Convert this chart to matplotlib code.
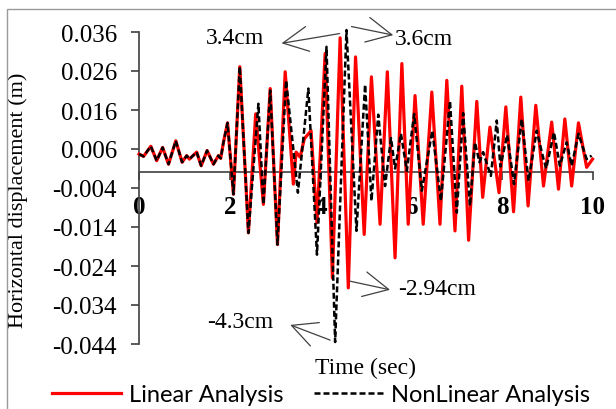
import matplotlib
matplotlib.use('Agg')
import matplotlib.pyplot as plt
from matplotlib.patches import Rectangle

# values (time in s, displacement in m)
shared_t = [0.0, 0.10, 0.26, 0.39, 0.52, 0.65, 0.81, 0.95, 1.05, 1.11, 1.27, 1.37,
            1.50, 1.64, 1.75, 1.80, 1.86, 1.95, 2.08, 2.22, 2.41]
shared_v = [0.0047, 0.0041, 0.0067, 0.0030, 0.0064, 0.0021, 0.0081, 0.0026, 0.0043,
            0.0034, 0.0052, 0.0017, 0.0056, 0.0021, 0.0043, 0.0036, 0.0077, 0.0127,
            -0.0056, 0.0271, -0.0155]

linear_t = [2.57, 2.74, 2.89, 3.05, 3.22, 3.40, 3.46, 3.55, 3.64, 3.79, 3.92, 4.10,
            4.26, 4.43, 4.61, 4.77, 4.96, 5.12, 5.31, 5.47, 5.64, 5.79, 5.93, 6.08,
            6.26, 6.45, 6.63, 6.78, 6.96, 7.11, 7.26, 7.44, 7.57, 7.73, 7.93, 8.08,
            8.25, 8.41, 8.57, 8.74, 8.91, 9.09, 9.24, 9.38, 9.53, 9.68, 9.86, 9.99]
linear_v = [0.0150, -0.0082, 0.0215, -0.0185, 0.0258, -0.0030, 0.0052, 0.0039, 0.0086,
            0.0107, -0.0129, 0.0305, -0.0271, 0.0345, -0.0296, 0.0296, -0.0159, 0.0245,
            -0.0133, 0.0258, -0.0219, 0.0279, -0.0133, 0.0197, -0.0133, 0.0206, -0.0133,
            0.0236, -0.0150, 0.0221, -0.0174, 0.0182, -0.0064, 0.0116, -0.0052, 0.0168,
            -0.0101, 0.0193, -0.0086, 0.0172, -0.0035, 0.0129, -0.0043, 0.0137, -0.0035,
            0.0127, 0.0013, 0.0034]

nonlinear_t = [2.63, 2.74, 2.89, 3.05, 3.24, 3.50, 3.73, 3.92, 4.13, 4.32, 4.57, 4.79,
               4.98, 5.12, 5.27, 5.42, 5.55, 5.64, 5.77, 5.90, 6.06, 6.23, 6.46, 6.65,
               6.85, 7.00, 7.14, 7.29, 7.40, 7.50, 7.58, 7.75, 7.88, 7.96, 8.11, 8.26,
               8.43, 8.58, 8.76, 8.91, 8.97, 9.14, 9.27, 9.42, 9.53, 9.68, 9.86, 9.97]
nonlinear_v = [0.0176, -0.0082, 0.0210, -0.0185, 0.0236, -0.0052, 0.0215, -0.0211,
               0.0322, -0.0435, 0.0365, -0.0150, 0.0225, -0.0073, 0.0148, -0.0035,
               0.0088, 0.0010, 0.0099, 0.0004, 0.0150, -0.0047, 0.0107, -0.0073,
               0.0183, -0.0103, 0.0152, -0.0086, 0.0077, 0.0026, 0.0052, -0.0009,
               0.0133, 0.0015, 0.0096, -0.0030, 0.0137, -0.0022, 0.0107, 0.0034,
               0.0010, 0.0103, 0.0017, 0.0077, 0.0017, 0.0099, 0.0034, 0.0043]

y_ticks = [-0.044, -0.034, -0.024, -0.014, -0.004, 0.006, 0.016, 0.026, 0.036]
x_ticks = [0, 2, 4, 6, 8, 10]

# peak labels: text, text pos, alignment, arrow tail, arrow head
peak_notes = [
    ('3.4cm', (2.11, 0.0346), 'center', (4.42, 0.0356), (3.14, 0.0331)),
    ('3.6cm', (5.64, 0.0344), 'left', (4.68, 0.0374), (5.60, 0.0352)),
    ('-2.94cm', (5.70, -0.0298), 'left', (4.65, -0.0279), (5.53, -0.0301)),
    ('-4.3cm', (2.22, -0.0383), 'center', (4.21, -0.0430), (3.33, -0.0391)),
]

serif = 'Liberation Serif'
axis_col = '#404040'

fig = plt.figure(figsize=(6.16, 4.10), dpi=100)
fig.patches.append(Rectangle((7 / 616, -0.1), 1.2, 1.1 - 10 / 410,
                             transform=fig.transFigure, fill=False,
                             edgecolor='#9a9a9a', lw=1.0))
ax = fig.add_axes([139 / 616, 65 / 410, 454 / 616, 312 / 410])

ax.plot(shared_t + linear_t, shared_v + linear_v, color='#ff0000', lw=2.3,
        solid_joinstyle='round', clip_on=False, label='Linear Analysis', zorder=3)
nl, = ax.plot(shared_t + nonlinear_t, shared_v + nonlinear_v, color='black', lw=1.8,
              ls='--', clip_on=False, label='NonLinear Analysis', zorder=4)
nl.set_dashes((2.4, 1.2))

ax.set_xlim(0, 10)
ax.set_ylim(-0.044, 0.036)
for s in ['top', 'right']:
    ax.spines[s].set_visible(False)
ax.spines['bottom'].set_position(('data', 0))
ax.spines['bottom'].set_bounds(0, 10)
ax.spines['left'].set_bounds(-0.044, 0.036)
for s in ['bottom', 'left']:
    ax.spines[s].set_color(axis_col)
    ax.spines[s].set_linewidth(1.2)
    ax.spines[s].set_zorder(2)

ax.set_yticks(y_ticks)
ax.set_yticklabels(['%.3f' % v for v in y_ticks], family=serif, fontsize=18)
ax.set_xticks(x_ticks)
ax.set_xticklabels([str(v) for v in x_ticks], family=serif, fontsize=18,
                   fontweight='bold')
ax.tick_params(axis='y', direction='out', length=6, width=1.2, color=axis_col, pad=10)
ax.tick_params(axis='x', direction='out', length=6, width=1.2, color=axis_col, pad=10)

ax.set_ylabel('Horizontal displacement (m)', family=serif, fontsize=16)
ax.yaxis.set_label_coords(-0.245, 0.465)
fig.text(366 / 616, 1 - 368 / 410, 'Time (sec)', family=serif, fontsize=17,
         ha='center', va='center')

for txt, pos, ha, tail, head in peak_notes:
    ax.text(pos[0], pos[1], txt, family=serif, fontsize=17, ha=ha, va='center')
    ax.annotate('', xy=head, xytext=tail, annotation_clip=False,
                arrowprops=dict(arrowstyle='->,head_length=0.9,head_width=0.45',
                                color=axis_col, lw=0.9, mutation_scale=20,
                                shrinkA=0, shrinkB=0))

fig.legend(loc='lower left', bbox_to_anchor=(0.066, -0.02), ncol=2, frameon=False,
           prop={'family': 'Lato', 'size': 17}, handlelength=2.9,
           handletextpad=0.35, columnspacing=1.3, borderpad=0.0)

fig.savefig('out.png', dpi=100)
